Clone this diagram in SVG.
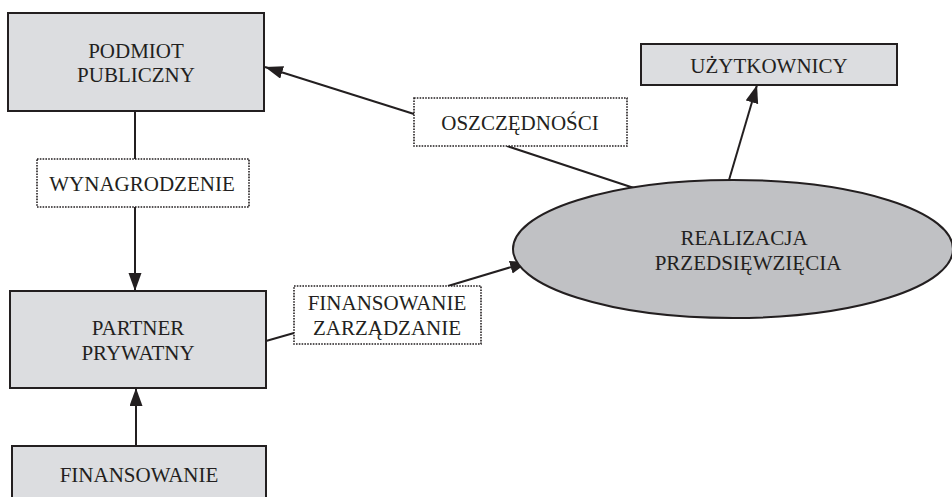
<svg xmlns="http://www.w3.org/2000/svg" width="952" height="497" viewBox="0 0 952 497">
<style>
.box{fill:#dcdde0;stroke:#231f20;stroke-width:2}
.ell{fill:#c0c1c4;stroke:#231f20;stroke-width:2}
.lbl{fill:#ffffff;stroke:#231f20;stroke-width:1.6;stroke-dasharray:1.6 1.2}
.t{font-family:"Liberation Serif","Times New Roman",serif;font-size:21px;fill:#231f20;text-anchor:middle}
.c{fill:none;stroke:#231f20;stroke-width:2}
</style>
<defs>
<marker id="ah" markerUnits="userSpaceOnUse" markerWidth="20" markerHeight="14" refX="18" refY="6.5" orient="auto">
<path d="M0,0 L18,6.5 L0,13 z" fill="#231f20"/>
</marker>
</defs>
<g id="connectors">
<line class="c" x1="135" y1="111" x2="135" y2="159"/>
<line class="c" x1="135" y1="207" x2="135" y2="291" marker-end="url(#ah)"/>
<line class="c" x1="136" y1="446" x2="136" y2="388" marker-end="url(#ah)"/>
<line class="c" x1="266" y1="341" x2="294" y2="333"/>
<line class="c" x1="448" y1="286" x2="528" y2="262" marker-end="url(#ah)"/>
<line class="c" x1="640" y1="190" x2="507" y2="146"/>
<line class="c" x1="414" y1="114" x2="265" y2="67" marker-end="url(#ah)"/>
<line class="c" x1="729" y1="180" x2="757" y2="85" marker-end="url(#ah)"/>
</g>
<g id="podmiot">
<rect class="box" x="8" y="13" width="256" height="98"/>
<text class="t" x="136" y="58">PODMIOT</text>
<text class="t" x="136" y="82">PUBLICZNY</text>
</g>
<g id="wynagrodzenie">
<rect class="lbl" x="37" y="159" width="212" height="48"/>
<text class="t" x="142" y="191">WYNAGRODZENIE</text>
</g>
<g id="partner">
<rect class="box" x="10" y="291" width="256" height="97"/>
<text class="t" x="138" y="335">PARTNER</text>
<text class="t" x="138" y="360">PRYWATNY</text>
</g>
<g id="finansowanie">
<rect class="box" x="12" y="446" width="254" height="60"/>
<text class="t" x="139" y="482">FINANSOWANIE</text>
</g>
<g id="finzarz">
<rect class="lbl" x="294" y="286" width="187" height="58"/>
<text class="t" x="387" y="310">FINANSOWANIE</text>
<text class="t" x="387" y="335">ZARZĄDZANIE</text>
</g>
<g id="oszczednosci">
<rect class="lbl" x="414" y="98" width="213" height="48"/>
<text class="t" x="520" y="130">OSZCZĘDNOŚCI</text>
</g>
<g id="realizacja">
<ellipse class="ell" cx="733" cy="249" rx="220" ry="69"/>
<text class="t" x="744" y="245">REALIZACJA</text>
<text class="t" x="748" y="270">PRZEDSIĘWZIĘCIA</text>
</g>
<g id="uzytkownicy">
<rect class="box" x="641" y="44" width="256" height="41"/>
<text class="t" x="769" y="73">UŻYTKOWNICY</text>
</g>
</svg>
